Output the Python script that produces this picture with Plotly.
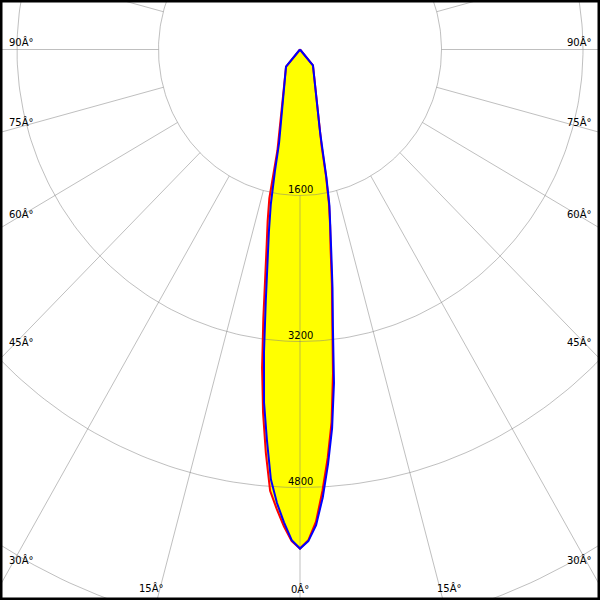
import numpy as np
import plotly.graph_objects as go

# ---- data (luminous intensity, cd) ----
gamma_deg = [0, 1, 2, 3, 4, 5, 6, 7, 8, 9, 10, 11, 12, 13, 14, 15, 17.5, 20,
             25, 30, 35, 40, 45, 50, 55, 60, 65, 70, 75, 80, 85, 90]
red_right = [5469, 5379, 5177, 4845, 4487, 4099, 3568, 2995, 2591, 2212, 1963, 1714,
             1412, 1085, 943, 834, 648, 530, 391, 312, 261, 228,
             0, 0, 0, 0, 0, 0, 0, 0, 0, 0]
red_left = [5469, 5388, 5228, 5041, 4849, 4436, 3999, 3517, 2981, 2524, 2169, 1919,
            1669, 1136, 994, 883, 692, 569, 422, 338, 283, 245,
            0, 0, 0, 0, 0, 0, 0, 0, 0, 0]
blue_right = [5469, 5388, 5216, 4916, 4552, 4166, 3675, 3052, 2641, 2265, 1998, 1746,
              1440, 1085, 943, 834, 648, 530, 391, 312, 261, 228,
              0, 0, 0, 0, 0, 0, 0, 0, 0, 0]
blue_left = [5469, 5379, 5185, 4977, 4721, 4294, 3890, 3341, 2779, 2355, 2023, 1732,
             1363, 1053, 932, 836, 665, 553, 416, 335, 283, 246,
             0, 0, 0, 0, 0, 0, 0, 0, 0, 0]

ring_values = [1600, 3200, 4800, 6400, 8000]
ring_labels = ["1600", "3200", "4800"]
spoke_step = 15
angle_labels = ["90Â°", "75Â°", "60Â°", "45Â°", "30Â°", "15Â°", "0Â°"]

# ---- layout constants (pixels) ----
W = H = 600
CX_PX, CY_PX = 300, 49.5
PX_PER_CD_X = 141.5 / 1600
PX_PER_CD_Y = 146.0 / 1600

GRID = "rgba(128,128,128,0.5)"


def half_curves(left, right):
    th = np.radians(np.concatenate([-np.array(gamma_deg[::-1]), np.array(gamma_deg[1:])]))
    r = np.concatenate([np.array(left[::-1], float), np.array(right[1:], float)])
    return r * np.sin(th), -r * np.cos(th)


fig = go.Figure()

rx, ry = half_curves(red_left, red_right)
bx, by = half_curves(blue_left, blue_right)

# yellow fill
for xx, yy in [(rx, ry), (bx, by)]:
    fig.add_trace(go.Scatter(x=xx, y=yy, mode="lines", fill="toself",
                             fillcolor="#FFFF00", line=dict(width=0),
                             hoverinfo="skip"))

# grid rings
t = np.radians(np.arange(0, 361, 1))
gx, gy = [], []
for rv in ring_values:
    gx += list(rv * np.sin(t)) + [None]
    gy += list(-rv * np.cos(t)) + [None]
fig.add_trace(go.Scatter(x=gx, y=gy, mode="lines",
                         line=dict(color=GRID, width=1), hoverinfo="skip"))

# spokes (start at first ring)
sx, sy = [], []
for a in range(0, 360, spoke_step):
    ar = np.radians(a)
    r0, r1 = ring_values[0], 12000
    sx += [r0 * np.sin(ar), r1 * np.sin(ar), None]
    sy += [-r0 * np.cos(ar), -r1 * np.cos(ar), None]
fig.add_trace(go.Scatter(x=sx, y=sy, mode="lines",
                         line=dict(color=GRID, width=1), hoverinfo="skip"))

# curves
fig.add_trace(go.Scatter(x=rx, y=ry, mode="lines",
                         line=dict(color="#FF0000", width=2), hoverinfo="skip"))
fig.add_trace(go.Scatter(x=bx, y=by, mode="lines",
                         line=dict(color="#0000FF", width=2), hoverinfo="skip"))

font = dict(family="DejaVu Sans", size=10, color="black")
annotations = []
# intensity labels just above ring crossings on the 0° axis
for lab, rv in zip(ring_labels, ring_values):
    annotations.append(dict(x=0, y=-rv, xref="x", yref="y", text=lab, showarrow=False,
                            font=font, xanchor="center", yanchor="middle", yshift=6))

# angle labels (pixel positions of text centres)
left_pos = [(21, 42), (21, 122.5), (21, 214.5), (21, 341.5), (21, 560), (151, 588)]
for lab, (px, py) in zip(angle_labels[:-1], left_pos):
    for xx in (px, W - px):
        annotations.append(dict(x=xx / W, y=1 - py / H, xref="paper", yref="paper",
                                text=lab, showarrow=False, font=font,
                                xanchor="center", yanchor="middle"))
annotations.append(dict(x=299.5 / W, y=1 - 589 / H, xref="paper", yref="paper",
                        text=angle_labels[-1], showarrow=False, font=font,
                        xanchor="center", yanchor="middle"))

x_half = (W / 2) / PX_PER_CD_X
fig.update_layout(
    width=W, height=H,
    margin=dict(l=0, r=0, t=0, b=0),
    paper_bgcolor="white", plot_bgcolor="white",
    showlegend=False, hovermode=False,
    xaxis=dict(range=[-x_half, x_half], visible=False, fixedrange=True),
    yaxis=dict(range=[-(H - CY_PX) / PX_PER_CD_Y, CY_PX / PX_PER_CD_Y],
               visible=False, fixedrange=True),
    annotations=annotations,
    shapes=[dict(type="rect", xref="paper", yref="paper", x0=0, y0=0, x1=1, y1=1,
                 line=dict(color="black", width=5), layer="above")],
)

fig.write_html("out.html", config={"displayModeBar": False},
               post_script="document.body.style.margin='0';document.body.style.padding='0';"
                           "document.body.style.overflow='hidden';")
